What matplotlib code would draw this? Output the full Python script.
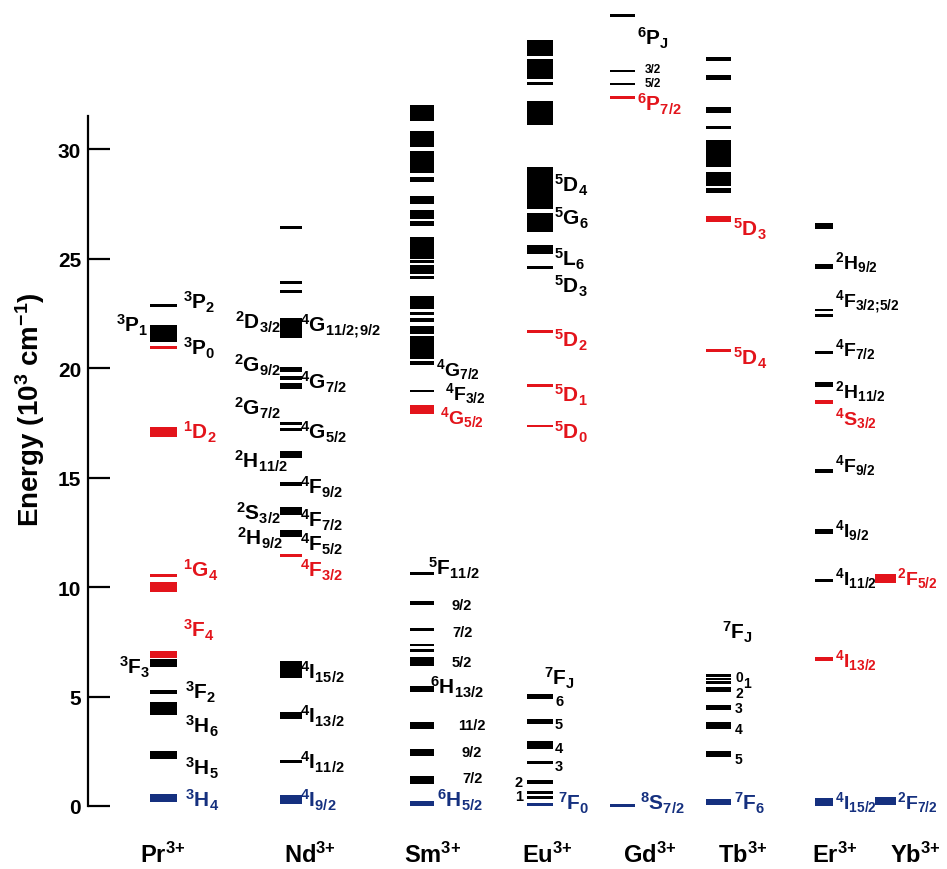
import matplotlib
matplotlib.use('Agg')
import matplotlib.pyplot as plt

plt.rcParams['font.family'] = ['Liberation Sans', 'DejaVu Sans']
plt.rcParams['font.weight'] = 'bold'
plt.rcParams['mathtext.fontset'] = 'custom'
for k in ['rm', 'it', 'bf', 'sf']:
    plt.rcParams['mathtext.' + k] = 'Liberation Sans:bold'

RED = '#e3141b'
BLUE = '#15307f'
COLORS = {'g': BLUE, 'e': RED, 'o': 'black'}

# energy levels in 10^3 cm^-1: (low, high, kind)  g=ground, e=emitting, o=other
ions = ['Pr', 'Nd', 'Sm', 'Eu', 'Gd', 'Tb', 'Er', 'Yb']

pr_levels = [(0.2, 0.55, 'g'), (2.15, 2.5, 'o'), (4.15, 4.75, 'o'), (5.1, 5.3, 'o'),
             (6.35, 6.72, 'o'), (6.75, 7.1, 'e'), (9.75, 10.25, 'e'), (10.45, 10.6, 'e'),
             (16.85, 17.3, 'e'), (20.95, 20.95, 'e'), (21.2, 21.95, 'o'), (22.85, 22.85, 'o')]

nd_levels = [(0.1, 0.5, 'g'), (2.05, 2.05, 'o'), (3.95, 4.3, 'o'), (5.85, 6.6, 'o'),
             (11.45, 11.45, 'e'), (12.3, 12.6, 'o'), (13.3, 13.65, 'o'), (14.6, 14.8, 'o'),
             (15.9, 16.2, 'o'), (17.2, 17.2, 'o'), (17.45, 17.45, 'o'),
             (19.05, 19.3, 'o'), (19.45, 19.65, 'o'), (19.8, 20.05, 'o'),
             (21.35, 22.3, 'o'), (23.5, 23.5, 'o'), (23.9, 23.9, 'o'), (26.4, 26.4, 'o')]

sm_levels = [(0.0, 0.25, 'g'), (1.0, 1.35, 'o'), (2.3, 2.6, 'o'), (3.5, 3.85, 'o'),
             (5.2, 5.5, 'o'), (6.4, 6.8, 'o'), (7.1, 7.1, 'o'), (7.35, 7.35, 'o'),
             (8.05, 8.05, 'o'), (9.2, 9.38, 'o'), (10.6, 10.6, 'o'),
             (17.9, 18.3, 'e'), (18.95, 18.95, 'o'), (20.15, 20.3, 'o'), (20.4, 21.45, 'o'),
             (21.55, 21.9, 'o'), (22.1, 22.3, 'o'), (22.4, 22.55, 'o'), (22.7, 23.3, 'o'),
             (24.05, 24.2, 'o'), (24.3, 24.7, 'o'), (24.8, 24.9, 'o'), (25.0, 26.0, 'o'),
             (26.5, 26.7, 'o'), (26.8, 27.2, 'o'), (27.5, 27.85, 'o'), (28.5, 28.7, 'o'),
             (28.9, 29.9, 'o'), (30.1, 30.8, 'o'), (31.3, 32.0, 'o')]

eu_levels = [(0.0, 0.12, 'g'), (0.38, 0.38, 'o'), (0.6, 0.6, 'o'), (1.0, 1.2, 'o'),
             (1.95, 2.05, 'o'), (2.6, 2.95, 'o'), (3.75, 3.95, 'o'), (4.9, 5.1, 'o'),
             (17.35, 17.35, 'e'), (19.2, 19.2, 'e'), (21.65, 21.65, 'e'),
             (24.6, 24.6, 'o'), (25.2, 25.6, 'o'), (26.2, 27.1, 'o'), (27.25, 29.2, 'o'),
             (31.1, 32.2, 'o'), (33.0, 33.0, 'o'), (33.2, 34.1, 'o'), (34.25, 35.0, 'o')]

gd_levels = [(0.0, 0.05, 'g'), (32.37, 32.37, 'e'), (32.97, 32.97, 'o'),
             (33.56, 33.56, 'o'), (36.1, 36.1, 'o')]

tb_levels = [(0.05, 0.3, 'g'), (2.25, 2.5, 'o'), (3.5, 3.85, 'o'), (4.4, 4.6, 'o'),
             (5.2, 5.45, 'o'), (5.65, 5.65, 'o'), (5.8, 5.8, 'o'), (5.95, 5.95, 'o'),
             (20.8, 20.8, 'e'), (26.65, 26.95, 'e'), (28.0, 28.2, 'o'), (28.3, 28.95, 'o'),
             (29.2, 30.4, 'o'), (31.0, 31.0, 'o'), (31.65, 31.9, 'o'), (33.15, 33.4, 'o'),
             (34.0, 34.2, 'o')]

er_levels = [(0.0, 0.35, 'g'), (6.6, 6.8, 'e'), (10.3, 10.3, 'o'), (12.4, 12.65, 'o'),
             (15.2, 15.4, 'o'), (18.35, 18.55, 'e'), (19.15, 19.35, 'o'), (20.7, 20.7, 'o'),
             (22.4, 22.4, 'o'), (22.65, 22.65, 'o'), (24.5, 24.75, 'o'), (26.35, 26.6, 'o')]

yb_levels = [(0.05, 0.4, 'g'), (10.2, 10.6, 'e')]

all_levels = [pr_levels, nd_levels, sm_levels, eu_levels, gd_levels, tb_levels,
              er_levels, yb_levels]

yticks = [0, 5, 10, 15, 20, 25, 30]

# layout (x in pixel-like units of a 947 px wide canvas)
col_x = [163.5, 291, 421.5, 540, 622, 718.5, 824, 885.5]
col_w = [27, 22, 24, 26, 25, 25, 18, 21]
name_x = [163, 310, 433, 547, 650, 743, 835, 915]
thin = 0.13


def T(sup, letter, sub=''):
    s = r'$^{%s}$' % sup + letter
    if sub:
        s += r'$_{%s}$' % sub.replace(';', r';\!')
    return s


# (x, E, text, kind, ha, size)
labels = [
    (183, 23.05, T('3', 'P', '2'), 'o', 'left', 15),
    (149, 22.0, T('3', 'P', '1'), 'o', 'right', 15),
    (183, 20.95, T('3', 'P', '0'), 'o', 'left', 15),
    (183, 17.1, T('1', 'D', '2'), 'e', 'left', 15),
    (183, 10.8, T('1', 'G', '4'), 'e', 'left', 15),
    (183, 8.1, T('3', 'F', '4'), 'e', 'left', 15),
    (150, 6.4, T('3', 'F', '3'), 'o', 'right', 15),
    (185, 5.25, T('3', 'F', '2'), 'o', 'left', 15),
    (185, 3.7, T('3', 'H', '6'), 'o', 'left', 15),
    (185, 1.8, T('3', 'H', '5'), 'o', 'left', 15),
    (185, 0.3, T('3', 'H', '4'), 'g', 'left', 15),

    (281, 22.15, T('2', 'D', '3/2'), 'o', 'right', 15),
    (300, 22.0, T('4', 'G', '11/2;9/2'), 'o', 'left', 15),
    (281, 20.2, T('2', 'G', '9/2'), 'o', 'right', 15),
    (300, 19.4, T('4', 'G', '7/2'), 'o', 'left', 15),
    (281, 18.2, T('2', 'G', '7/2'), 'o', 'right', 15),
    (300, 17.1, T('4', 'G', '5/2'), 'o', 'left', 15),
    (288, 15.8, T('2', 'H', '11/2'), 'o', 'right', 15),
    (300, 14.6, T('4', 'F', '9/2'), 'o', 'left', 15),
    (281, 13.4, T('2', 'S', '3/2'), 'o', 'right', 15),
    (300, 13.1, T('4', 'F', '7/2'), 'o', 'left', 15),
    (283, 12.3, T('2', 'H', '9/2'), 'o', 'right', 15),
    (300, 12.0, T('4', 'F', '5/2'), 'o', 'left', 15),
    (300, 10.8, T('4', 'F', '3/2'), 'e', 'left', 15),
    (300, 6.15, T('4', 'I', '15/2'), 'o', 'left', 15),
    (300, 4.15, T('4', 'I', '13/2'), 'o', 'left', 15),
    (300, 2.05, T('4', 'I', '11/2'), 'o', 'left', 15),
    (300, 0.3, T('4', 'I', '9/2'), 'g', 'left', 15),

    (436, 20.0, T('4', 'G', '7/2'), 'o', 'left', 14),
    (445, 18.9, T('4', 'F', '3/2'), 'o', 'left', 14),
    (440, 17.8, T('4', 'G', '5/2'), 'e', 'left', 14),
    (428, 10.9, T('5', 'F', '11/2'), 'o', 'left', 15),
    (452, 9.25, '9/2', 'o', 'left', 10.5),
    (452, 8.0, '7/2', 'o', 'left', 10.5),
    (452, 6.65, '5/2', 'o', 'left', 10.5),
    (430, 5.5, T('6', 'H', '13/2'), 'o', 'left', 15),
    (458, 3.75, '11/2', 'o', 'left', 10.5),
    (462, 2.5, '9/2', 'o', 'left', 10.5),
    (462, 1.35, '7/2', 'o', 'left', 10.5),
    (437, 0.3, T('6', 'H', '5/2'), 'g', 'left', 15),

    (554, 28.4, T('5', 'D', '4'), 'o', 'left', 15),
    (554, 26.9, T('5', 'G', '6'), 'o', 'left', 15),
    (554, 25.0, T('5', 'L', '6'), 'o', 'left', 15),
    (554, 23.8, T('5', 'D', '3'), 'o', 'left', 15),
    (554, 21.3, T('5', 'D', '2'), 'e', 'left', 15),
    (554, 18.8, T('5', 'D', '1'), 'e', 'left', 15),
    (554, 17.1, T('5', 'D', '0'), 'e', 'left', 15),
    (544, 5.9, T('7', 'F', 'J'), 'o', 'left', 15),
    (555, 4.85, '6', 'o', 'left', 10.5),
    (555, 3.8, '5', 'o', 'left', 10.5),
    (555, 2.7, '4', 'o', 'left', 10.5),
    (555, 1.9, '3', 'o', 'left', 10.5),
    (523, 1.15, '2', 'o', 'right', 10.5),
    (523, 0.5, '1', 'o', 'right', 10.5),
    (558, 0.2, T('7', 'F', '0'), 'g', 'left', 15),

    (637, 35.1, T('6', 'P', 'J'), 'o', 'left', 15),
    (645, 33.7, '3/2', 'o', 'left', 8.5),
    (645, 33.05, '5/2', 'o', 'left', 8.5),
    (637, 32.1, T('6', 'P', '7/2'), 'e', 'left', 15),
    (640, 0.2, T('8', 'S', '7/2'), 'g', 'left', 15),

    (733, 26.4, T('5', 'D', '3'), 'e', 'left', 15),
    (733, 20.5, T('5', 'D', '4'), 'e', 'left', 15),
    (722, 8.0, T('7', 'F', 'J'), 'o', 'left', 15),
    (735, 5.95, '0', 'o', 'left', 10),
    (743, 5.65, '1', 'o', 'left', 10),
    (735, 5.2, '2', 'o', 'left', 10),
    (735, 4.5, '3', 'o', 'left', 10),
    (735, 3.55, '4', 'o', 'left', 10),
    (735, 2.2, '5', 'o', 'left', 10),
    (734, 0.2, T('7', 'F', '6'), 'g', 'left', 15),

    (835, 24.9, T('2', 'H', '9/2'), 'o', 'left', 14),
    (835, 23.1, T('4', 'F', '3/2;5/2'), 'o', 'left', 14),
    (835, 20.9, T('4', 'F', '7/2'), 'o', 'left', 14),
    (835, 19.0, T('2', 'H', '11/2'), 'o', 'left', 14),
    (835, 17.75, T('4', 'S', '3/2'), 'e', 'left', 14),
    (835, 15.6, T('4', 'F', '9/2'), 'o', 'left', 14),
    (835, 12.65, T('4', 'I', '9/2'), 'o', 'left', 14),
    (835, 10.45, T('4', 'I', '11/2'), 'o', 'left', 14),
    (835, 6.7, T('4', 'I', '13/2'), 'e', 'left', 14),
    (835, 0.2, T('4', 'I', '15/2'), 'g', 'left', 14),
    (897, 10.45, T('2', 'F', '5/2'), 'e', 'left', 14),
    (897, 0.2, T('2', 'F', '7/2'), 'g', 'left', 14),
]

W, H = 947, 870
PX = 21.9          # pixels per 10^3 cm^-1
Y0 = 807           # pixel row of E = 0

fig = plt.figure(figsize=(W / 100, H / 100), dpi=100)
ax = fig.add_axes([0, 0, 1, 1])
ax.set_xlim(0, W)
ax.set_ylim((Y0 - H) / PX, Y0 / PX)

for cx, w, levels in zip(col_x, col_w, all_levels):
    for lo, hi, kind in levels:
        h = max(hi - lo, thin)
        ax.bar(cx, h, bottom=lo - (h - (hi - lo)) / 2, width=w,
               color=COLORS[kind], linewidth=0)

for x, e, txt, kind, ha, size in labels:
    off = 0.716 * size * 100 / 72 / 2 / PX
    ax.text(x, e - off, txt, color=COLORS[kind], ha=ha, va='baseline',
            fontsize=size, fontweight='bold')

for nx, ion in zip(name_x, ions):
    ax.text(nx, (Y0 - 855) / PX, ion + r'$^{3{+}}$', ha='center', va='center',
            fontsize=17, fontweight='bold')

ax.text(30, (Y0 - 410) / PX, r'Energy (10$^{3}$ cm$^{-1}$)', rotation=90,
        ha='center', va='center', fontsize=20, fontweight='bold')

for s in ['top', 'right', 'bottom']:
    ax.spines[s].set_visible(False)
ax.spines['left'].set_position(('data', 88))
ax.spines['left'].set_bounds(0, 31.5)
ax.spines['left'].set_linewidth(1.6)
ax.set_xticks([])
ax.set_yticks(yticks)
ax.set_yticklabels([str(t) for t in yticks], fontsize=15, fontweight='bold')
ax.tick_params(axis='y', direction='in', length=16, width=1.6, pad=5)

fig.savefig('out.png', dpi=100)
